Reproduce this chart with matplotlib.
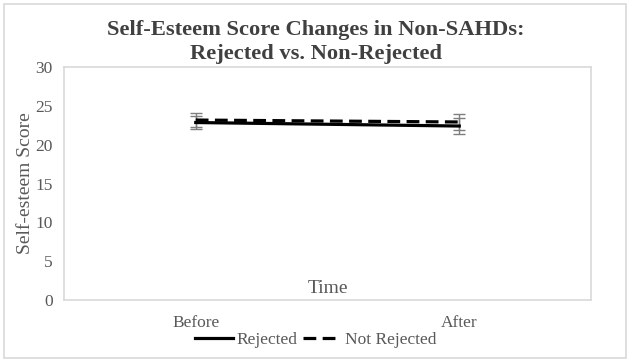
import matplotlib.pyplot as plt
from matplotlib.patches import Rectangle
from matplotlib.lines import Line2D

plt.rcParams['font.family'] = ['Liberation Serif', 'DejaVu Serif']

times = ['Before', 'After']
rejected = [22.85, 22.4]
rejected_err = [0.86, 1.07]
not_rejected = [23.17, 22.92]
not_rejected_err = [0.86, 1.0]
yticks = [0, 5, 10, 15, 20, 25, 30]

grey = '#595959'
border = '#d9d9d9'
dash = (0, (4, 2))

fig = plt.figure(figsize=(6.31, 3.63), dpi=100)
fig.patches.append(Rectangle((4 / 631, 5 / 363), 622 / 631, 354 / 363,
                             transform=fig.transFigure, fill=False,
                             edgecolor=border, linewidth=1.2))
ax = fig.add_axes([64 / 631, 63 / 363, 527 / 631, 233 / 363])

x = list(range(len(times)))
ax.errorbar(x, rejected, yerr=rejected_err, color='black', lw=2.3,
            ecolor='#7f7f7f', elinewidth=1, capsize=4, capthick=1, zorder=3)
ax.errorbar(x, not_rejected, yerr=not_rejected_err, color='black', lw=2.3,
            ls=dash, ecolor='#7f7f7f', elinewidth=1, capsize=4,
            capthick=1, zorder=3)

ax.set_xlim(-0.5, 1.5)
ax.set_ylim(0, 30)
ax.set_yticks(yticks)
ax.set_xticks(x)
ax.set_xticklabels(times)
ax.tick_params(length=0, labelsize=12.5, colors=grey, pad=8)
ax.tick_params(axis='x', pad=11)
for s in ax.spines.values():
    s.set_color(border)
    s.set_linewidth(1.2)

ax.set_ylabel('Self-esteem Score', fontsize=14, color=grey, labelpad=1)
ax.text(0.5, 0.05, 'Time', transform=ax.transAxes, ha='center',
        va='center', fontsize=14, color=grey)

fig.text(0.5, 1 - 42 / 363,
         'Self-Esteem Score Changes in Non-SAHDs:\nRejected vs. Non-Rejected',
         ha='center', va='center', fontsize=16.2, fontweight='bold',
         color='#404040', linespacing=1.2)

handles = [Line2D([], [], color='black', lw=2.3),
           Line2D([], [], color='black', lw=2.3, ls=dash)]
leg = fig.legend(handles, ['Rejected', 'Not Rejected'], loc='center',
                 bbox_to_anchor=(0.5, 23 / 363), ncol=2, frameon=False,
                 fontsize=12.5, handlelength=2.2, handletextpad=0.2,
                 columnspacing=0.3)
for t in leg.get_texts():
    t.set_color(grey)

fig.savefig('out.png', dpi=100)
